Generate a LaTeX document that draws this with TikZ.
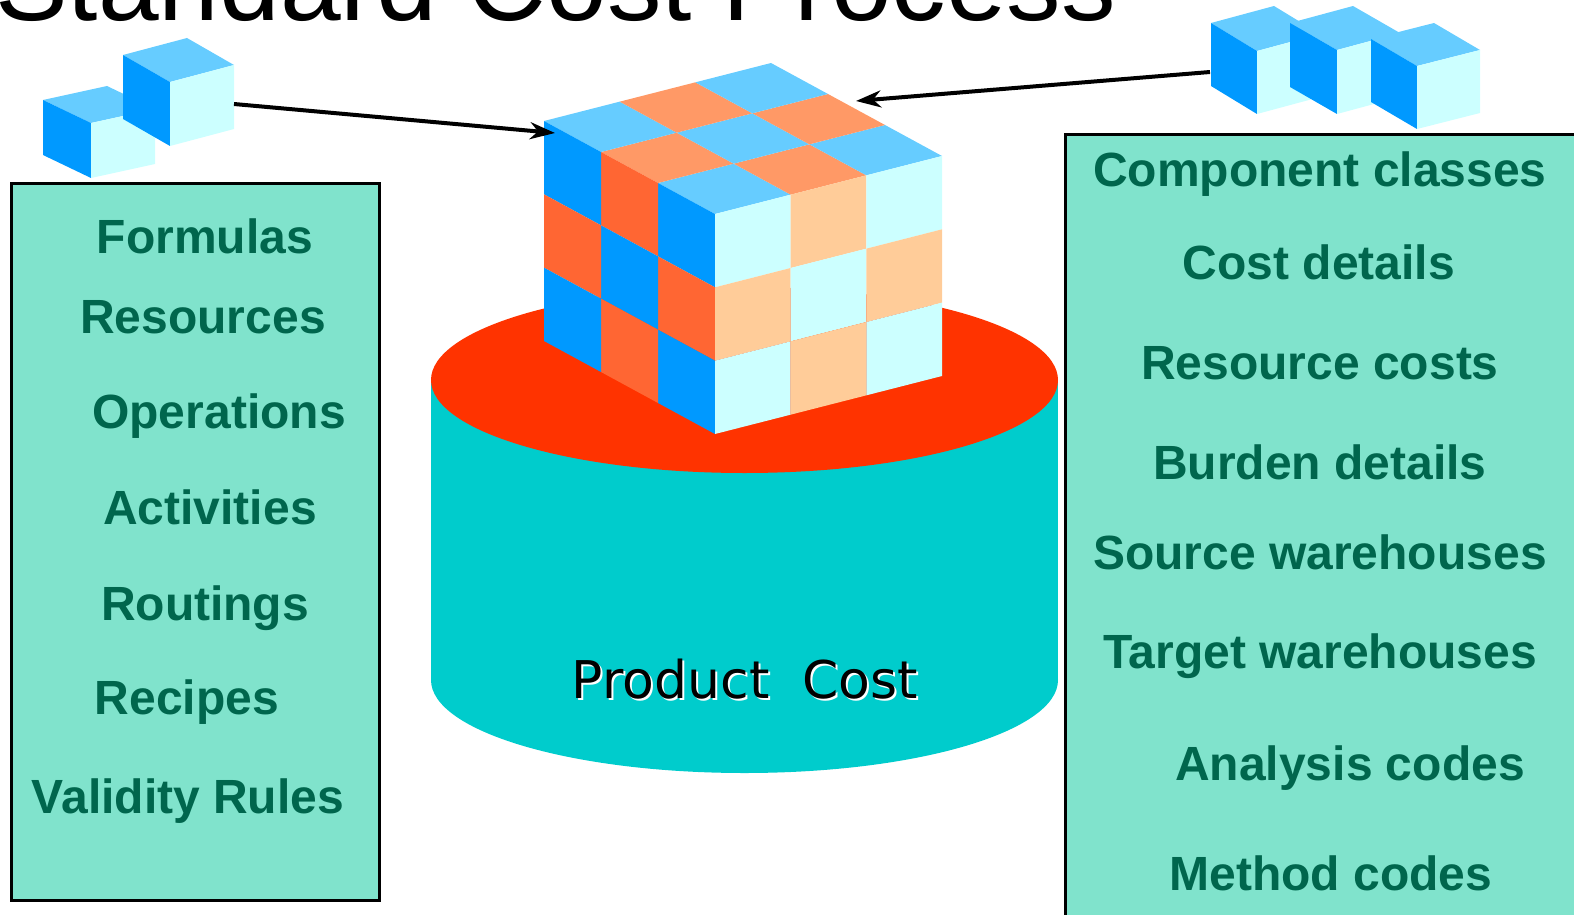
\documentclass[tikz,border=0pt]{standalone}
\usepackage{fontspec}
\setmainfont{Liberation Sans}
\newfontfamily\pcfont{DejaVu Sans}
\usetikzlibrary{arrows.meta}
\definecolor{boxfill}{HTML}{80E3CC}
\definecolor{itemgreen}{HTML}{00664D}
\definecolor{cylside}{HTML}{00CCCC}
\definecolor{cyltop}{HTML}{FF3300}
\definecolor{ltblue}{HTML}{66CCFF}
\definecolor{dkblue}{HTML}{0099FF}
\definecolor{cyanface}{HTML}{CCFFFF}
\definecolor{salmon}{HTML}{FF9966}
\definecolor{orangeface}{HTML}{FF6633}
\definecolor{peach}{HTML}{FFCC99}
\tikzset{
  minicube/.pic={
    \fill[ltblue] (0,0,0) -- (1,0,0) -- (1,1,0) -- (0,1,0) -- cycle;
    \fill[dkblue] (0,0,0) -- (1,0,0) -- (1,0,1) -- (0,0,1) -- cycle;
    \fill[cyanface] (0,0,0) -- (0,1,0) -- (0,1,1) -- (0,0,1) -- cycle;
  }
}
\begin{document}
\begin{tikzpicture}[x=1pt,y=-1pt,
  item/.style={anchor=base, inner sep=0pt, text=itemgreen, font=\fontsize{48}{57}\selectfont\bfseries},
  panel/.style={draw=black, line width=2.8pt, fill=boxfill, anchor=north west, inner sep=0pt},
  link/.style={line width=4pt, -{Stealth[length=25pt,width=17pt,inset=8pt]}},
  pctext/.style={anchor=base, inner sep=0pt, font=\pcfont\fontsize{52}{60}\selectfont}]
\useasboundingbox (0,0) rectangle (1574,915);
\begin{scope}
\clip (0,0) rectangle (1574,915);
% title
\node[anchor=base west, inner sep=0pt, font=\fontsize{109}{120}\selectfont] (title) at (-5,21) {Standard Cost Process};
% panels
\node[panel, minimum width=368pt, minimum height=717pt] (leftpanel) at (10,182) {};
\node[panel, minimum width=540pt, minimum height=820pt] (rightpanel) at (1064,133) {};
% cylinder
\fill[cylside] (744.5,680) ellipse [x radius=313.5, y radius=93];
\fill[cylside] (431,380) rectangle (1058,680);
\fill[cyltop] (744.5,380) ellipse [x radius=313.5, y radius=93];
% big cube
\begin{scope}[shift={(715,214)}, x={(-57pt,31pt)}, y={(75.667pt,19.333pt)}, z={(0pt,-73.333pt)}]
  \foreach \i in {0,1,2}{\foreach \j in {0,1,2}{
    \pgfmathtruncatemacro\pp{mod(\i+\j,2)}
    \ifnum\pp=0 \def\cc{ltblue}\else\def\cc{salmon}\fi
    \fill[\cc] (\i,\j,0) -- ({\i+1},\j,0) -- ({\i+1},{\j+1},0) -- (\i,{\j+1},0) -- cycle;
    \ifnum\pp=0 \def\cc{dkblue}\else\def\cc{orangeface}\fi
    \fill[\cc] (\i,0,\j) -- ({\i+1},0,\j) -- ({\i+1},0,{\j+1}) -- (\i,0,{\j+1}) -- cycle;
    \ifnum\pp=0 \def\cc{cyanface}\else\def\cc{peach}\fi
    \fill[\cc] (0,\i,\j) -- (0,{\i+1},\j) -- (0,{\i+1},{\j+1}) -- (0,\i,{\j+1}) -- cycle;
  }}
\end{scope}
% small cubes left
\begin{scope}[shift={(91,123)}, x={(-48pt,23pt)}, y={(64pt,14pt)}, z={(0pt,-55pt)}]
  \pic (cubeA) {minicube};
\end{scope}
\begin{scope}[shift={(170,82)}, x={(-47pt,27pt)}, y={(64pt,17pt)}, z={(0pt,-64pt)}]
  \pic (cubeB) {minicube};
\end{scope}
% small cubes right
\begin{scope}[shift={(1257,51)}, x={(-46pt,28pt)}, y={(63pt,17pt)}, z={(0pt,-63pt)}]
  \pic (cubeC) {minicube};
\end{scope}
\begin{scope}[shift={(1337,50)}, x={(-47pt,27pt)}, y={(63pt,17pt)}, z={(0pt,-64pt)}]
  \pic (cubeD) {minicube};
\end{scope}
\begin{scope}[shift={(1417,66)}, x={(-46pt,27pt)}, y={(63pt,16pt)}, z={(0pt,-63pt)}]
  \pic (cubeE) {minicube};
\end{scope}
% arrows
\coordinate (la) at (234,104);
\coordinate (lb) at (555,133);
\draw[link] (la) -- (lb);
\coordinate (ra) at (1210,72);
\coordinate (rb) at (856,101);
\draw[link] (ra) -- (rb);
% product cost
\node[pctext, text=white] (pcshadow) at (747,700) {Product\ \ Cost};
\node[pctext, text=black] (pc) at (745,698) {Product\ \ Cost};
% left items
\node[item] (l1) at (205,253) {Formulas};
\node[item] (l2) at (203,333) {Resources};
\node[item] (l3) at (219,428) {Operations};
\node[item] (l4) at (210,524) {Activities};
\node[item] (l5) at (205,620) {Routings};
\node[item] (l6) at (187,714) {Recipes};
\node[item] (l7) at (188,813) {Validity Rules};
% right items
\node[item] (r1) at (1320,186) {Component classes};
\node[item] (r2) at (1319,279) {Cost details};
\node[item] (r3) at (1320,379) {Resource costs};
\node[item] (r4) at (1320,479) {Burden details};
\node[item] (r5) at (1320,569) {Source warehouses};
\node[item] (r6) at (1320,668) {Target warehouses};
\node[item] (r7) at (1350,780) {Analysis codes};
\node[item] (r8) at (1331,890) {Method codes};
\end{scope}
\end{tikzpicture}
\end{document}
